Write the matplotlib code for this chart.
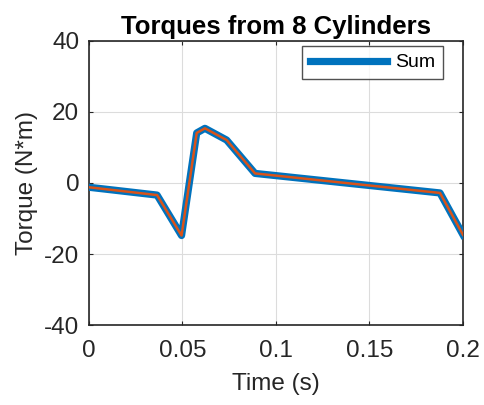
import matplotlib
matplotlib.use("Agg")
import matplotlib.pyplot as plt

time_s = [0.0, 0.0364, 0.0495, 0.0576, 0.0620, 0.0736, 0.0888, 0.1877, 0.2]
torque_sum = [-1.2, -3.4, -14.8, 14.1, 15.4, 12.1, 2.7, -2.8, -14.6]

xticks = [0, 0.05, 0.1, 0.15, 0.2]
xticklabels = ["0", "0.05", "0.1", "0.15", "0.2"]
yticks = [-40, -20, 0, 20, 40]

plt.rcParams['font.family'] = ['Liberation Sans', 'DejaVu Sans']
plt.rcParams['axes.unicode_minus'] = False

fig = plt.figure(figsize=(4.85, 4.05), dpi=100)
ax = fig.add_axes([0.1835, 0.1975, 0.9546 - 0.1835, 0.8988 - 0.1975])

ax.plot(time_s, torque_sum, color='#0072BD', lw=5.2, label='Sum', solid_joinstyle='round', zorder=3)
ax.plot(time_s, torque_sum, color='#D95319', lw=1.8, solid_joinstyle='round', zorder=4)

ax.set_xlim(0, 0.2)
ax.set_ylim(-40, 40)
ax.set_xticks(xticks)
ax.set_xticklabels(xticklabels)
ax.set_yticks(yticks)
ax.grid(True, color='#dcdcdc', lw=0.8)
ax.set_axisbelow(True)
for s in ax.spines.values():
    s.set_color('#262626')
    s.set_linewidth(1.2)
ax.tick_params(direction='in', length=3, width=0.8, colors='#262626', labelsize=17.5,
               labelcolor='#262626', top=True, right=True, pad=7)
ax.tick_params(axis='x', pad=11)

ax.set_xlabel('Time (s)', fontsize=17.5, color='#262626', labelpad=8)
ax.set_ylabel('Torque (N*m)', fontsize=17.5, color='#262626', labelpad=4)
ax.set_title('Torques from 8 Cylinders', fontsize=18.5, fontweight='bold', color='black', pad=5)

leg = ax.legend(loc='upper right', bbox_to_anchor=(0.9465, 0.982), fontsize=14, frameon=True,
                fancybox=False, edgecolor='#262626', handlelength=4.0, borderaxespad=0.0,
                borderpad=0.4, handletextpad=0.4)
leg.get_frame().set_linewidth(1.0)

fig.savefig('out.png', dpi=100)
